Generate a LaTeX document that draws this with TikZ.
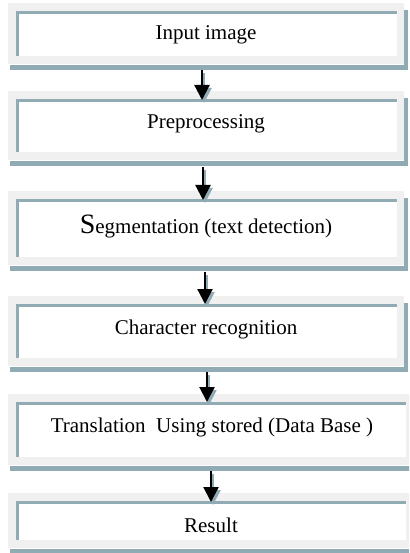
\documentclass[tikz,border=0pt]{standalone}
\usepackage{fontspec}
\setmainfont{Liberation Serif}
\usetikzlibrary{arrows.meta}
\definecolor{framegray}{RGB}{240,240,240}
\definecolor{bevel}{RGB}{145,171,180}
\tikzset{
  innerbox/.style={fill=white, draw=none, inner sep=0pt, outer sep=0pt, anchor=north west},
  boxlabel/.style={anchor=base, inner sep=0pt, font=\fontsize{21bp}{25bp}\selectfont},
  flow/.style={line width=2.2bp, -{Triangle[width=15bp,length=15bp]}, draw=black},
  flowshadow/.style={line width=2.2bp, -{Triangle[width=15bp,length=15bp]}, draw=bevel},
}
% #1 name, #2 top, #3 bottom, #4 right, #5 baseline, #6 text x, #7 text
\newcommand\flowbox[7]{%
  \fill[bevel] (#4,#2+7) rectangle (#4+4,#3+6);
  \fill[bevel] (10,#3+1) rectangle (#4+4,#3+6);
  \fill[framegray] (8,#2) rectangle (#4,#3);
  \node[innerbox, minimum width=#4bp-23bp, minimum height=#3bp-#2bp-16bp] (#1) at (16,#2+8) {};
  \fill[bevel] (16,#2+8) rectangle (#4-7,#2+11);
  \fill[bevel] (16,#2+8) rectangle (19,#3-8);
  \node[boxlabel] (#1t) at (#6,#5) {#7};
}
\newcommand\flowarrow[2]{%
  \draw[flowshadow] ([shift={(2,3)}]#1) -- ([shift={(2,3)}]#2);
  \draw[flow] (#1) -- (#2);
}
\begin{document}
\begin{tikzpicture}[x=1bp, y=-1bp]
\useasboundingbox (0,0) rectangle (409,553);
\fill[white] (0,0) rectangle (409,553);
\begin{scope}
\clip (0,0) rectangle (409,553);
\flowbox{b1}{3}{64}{404}{39.5}{206}{Input image}
\flowbox{b2}{91}{160}{404}{129}{206}{Preprocessing}
\flowbox{b3}{191}{265}{404}{233}{206}{{\fontsize{28bp}{30bp}\selectfont S}egmentation (text detection)}
\flowbox{b4}{296}{366}{404}{334}{206}{Character recognition}
\flowbox{b5}{394}{465}{413}{432}{212}{Translation\ \ Using stored (Data Base\ )}
\flowbox{b6}{493}{548}{413}{532}{211}{Result}

\coordinate (a1s) at (202,70);  \coordinate (a1e) at (202,100);
\coordinate (a2s) at (203,167); \coordinate (a2e) at (203,200);
\coordinate (a3s) at (205,272); \coordinate (a3e) at (205,304);
\coordinate (a4s) at (207,372); \coordinate (a4e) at (207,402);
\coordinate (a5s) at (211,471); \coordinate (a5e) at (211,502);
\flowarrow{a1s}{a1e}
\flowarrow{a2s}{a2e}
\flowarrow{a3s}{a3e}
\flowarrow{a4s}{a4e}
\flowarrow{a5s}{a5e}
\end{scope}
\end{tikzpicture}
\end{document}
